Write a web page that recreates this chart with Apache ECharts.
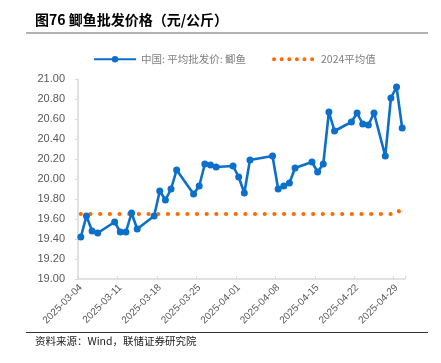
<!DOCTYPE html>
<html><head><meta charset="utf-8">
<script src="https://cdn.jsdelivr.net/npm/echarts@6/dist/echarts.min.js"></script>
<style>html,body{margin:0;padding:0;background:#fff;}#c{width:441px;height:363px;}</style>
</head><body><div id="c"></div>
<script>
// Axis range (calendar days) and tick labels
var axisStart = '2025-03-04';
var axisDays = 58; // 2025-03-04 .. 2025-04-30
var tickLabels = ['2025-03-04','2025-03-11','2025-03-18','2025-03-25','2025-04-01','2025-04-08','2025-04-15','2025-04-22','2025-04-29'];
var yTicks = [19.0, 21.0, 0.2];

// Series: 中国:平均批发价:鲫鱼
var priceDates = ['03-04','03-05','03-06','03-07','03-10','03-11','03-12','03-13','03-14','03-17','03-18','03-19','03-20','03-21','03-24','03-25','03-26','03-27','03-28','03-31','04-01','04-02','04-03','04-07','04-08','04-09','04-10','04-11','04-14','04-15','04-16','04-17','04-18','04-21','04-22','04-23','04-24','04-25','04-27','04-28','04-29','04-30'];
var priceValues = [19.42,19.63,19.48,19.46,19.57,19.47,19.47,19.66,19.50,19.63,19.88,19.79,19.90,20.09,19.85,19.93,20.15,20.14,20.12,20.13,20.02,19.86,20.19,20.23,19.90,19.93,19.96,20.11,20.17,20.07,20.15,20.67,20.48,20.57,20.66,20.55,20.54,20.66,20.23,20.81,20.92,20.51];
// Series: 2024平均值
var avgValues = [19.65,19.65,19.65,19.65,19.65,19.65,19.65,19.65,19.65,19.65,19.65,19.65,19.65,19.65,19.65,19.65,19.65,19.65,19.65,19.65,19.65,19.65,19.65,19.65,19.65,19.65,19.65,19.65,19.65,19.65,19.65,19.65,19.65,19.65,19.65,19.65,19.65,19.65,19.65,19.65,19.65,19.72];

// build category list of calendar days
function pad(n){return (n<10?'0':'')+n;}
var categories = [];
var d0 = new Date(axisStart + 'T00:00:00Z');
for (var i = 0; i < axisDays; i++) {
  var d = new Date(d0.getTime() + i*86400000);
  categories.push(d.getUTCFullYear() + '-' + pad(d.getUTCMonth()+1) + '-' + pad(d.getUTCDate()));
}
function mapSeries(vals){
  var arr = categories.map(function(){return null;});
  priceDates.forEach(function(md, k){
    var idx = categories.indexOf('2025-' + md);
    if (idx >= 0) arr[idx] = vals[k];
  });
  return arr;
}
var priceSeries = mapSeries(priceValues);
var avgSeries = mapSeries(avgValues);

var chart = echarts.init(document.getElementById('c'), null, {renderer:'canvas'});
var blue = '#0B6FCB', orange = '#FF6A00';
chart.setOption({
  animation:false,
  backgroundColor:'#fff',
  grid:{left:78, right:36, top:79, bottom:84, containLabel:false},
  legend:{
    left:88, top:49, itemWidth:42, itemHeight:8, itemGap:26,
    textStyle:{color:'#7f7f7f', fontSize:10.5, fontFamily:'"Noto Sans CJK SC", sans-serif'},
    data:[
      {name:'中国: 平均批发价: 鲫鱼'},
      {name:'2024平均值', itemStyle:{opacity:0, borderWidth:0}, lineStyle:{width:4, type:[0.01, 7.6], cap:'round', color:orange}}
    ]
  },
  xAxis:{
    type:'category', data:categories, boundaryGap:true,
    axisLine:{lineStyle:{color:'#d9d9d9', width:1.5}},
    axisTick:{show:true, inside:true, length:3, interval:function(i,v){return tickLabels.indexOf(v)>=0;}, lineStyle:{color:'#d9d9d9'}},
    axisLabel:{interval:function(i,v){return tickLabels.indexOf(v)>=0;}, rotate:45, margin:7, color:'#595959', fontSize:10, fontFamily:'Arial, "Liberation Sans", sans-serif'},
    splitLine:{show:false}
  },
  yAxis:{
    type:'value', min:yTicks[0], max:yTicks[1], interval:yTicks[2],
    axisLine:{show:true, lineStyle:{color:'#d9d9d9', width:1.5}},
    axisTick:{show:true, length:3, lineStyle:{color:'#d9d9d9'}},
    axisLabel:{margin:13, color:'#595959', fontSize:11, fontFamily:'Arial, "Liberation Sans", sans-serif', formatter:function(v){return v.toFixed(2);}},
    splitLine:{show:false}
  },
  series:[
    {name:'中国: 平均批发价: 鲫鱼', type:'line', data:priceSeries, connectNulls:true,
     symbol:'circle', symbolSize:7, showAllSymbol:true,
     itemStyle:{color:blue}, lineStyle:{color:blue, width:2.6}, z:3},
    {name:'2024平均值', type:'line', data:avgSeries, connectNulls:true,
     symbol:'none', showSymbol:false,
     itemStyle:{color:orange},
     lineStyle:{color:orange, width:4.2, type:[0.01, 9.67], cap:'round'}, z:2}
  ],
  graphic:[
    {type:'text', left:35, top:13, style:{text:'图76 鲫鱼批发价格（元/公斤）', fill:'#000', font:'bold 14px "Noto Sans CJK SC", sans-serif'}},
    {type:'line', shape:{x1:26, y1:33, x2:428, y2:33}, style:{stroke:'#9a9a9a', lineWidth:1.5}},
    {type:'line', shape:{x1:26, y1:332.5, x2:428, y2:332.5}, style:{stroke:'#333', lineWidth:1}},
    {type:'text', left:35, top:336, style:{text:'资料来源：Wind，联储证券研究院', fill:'#222', font:'10.5px "Noto Sans CJK SC", sans-serif'}}
  ]
});
</script></body></html>
